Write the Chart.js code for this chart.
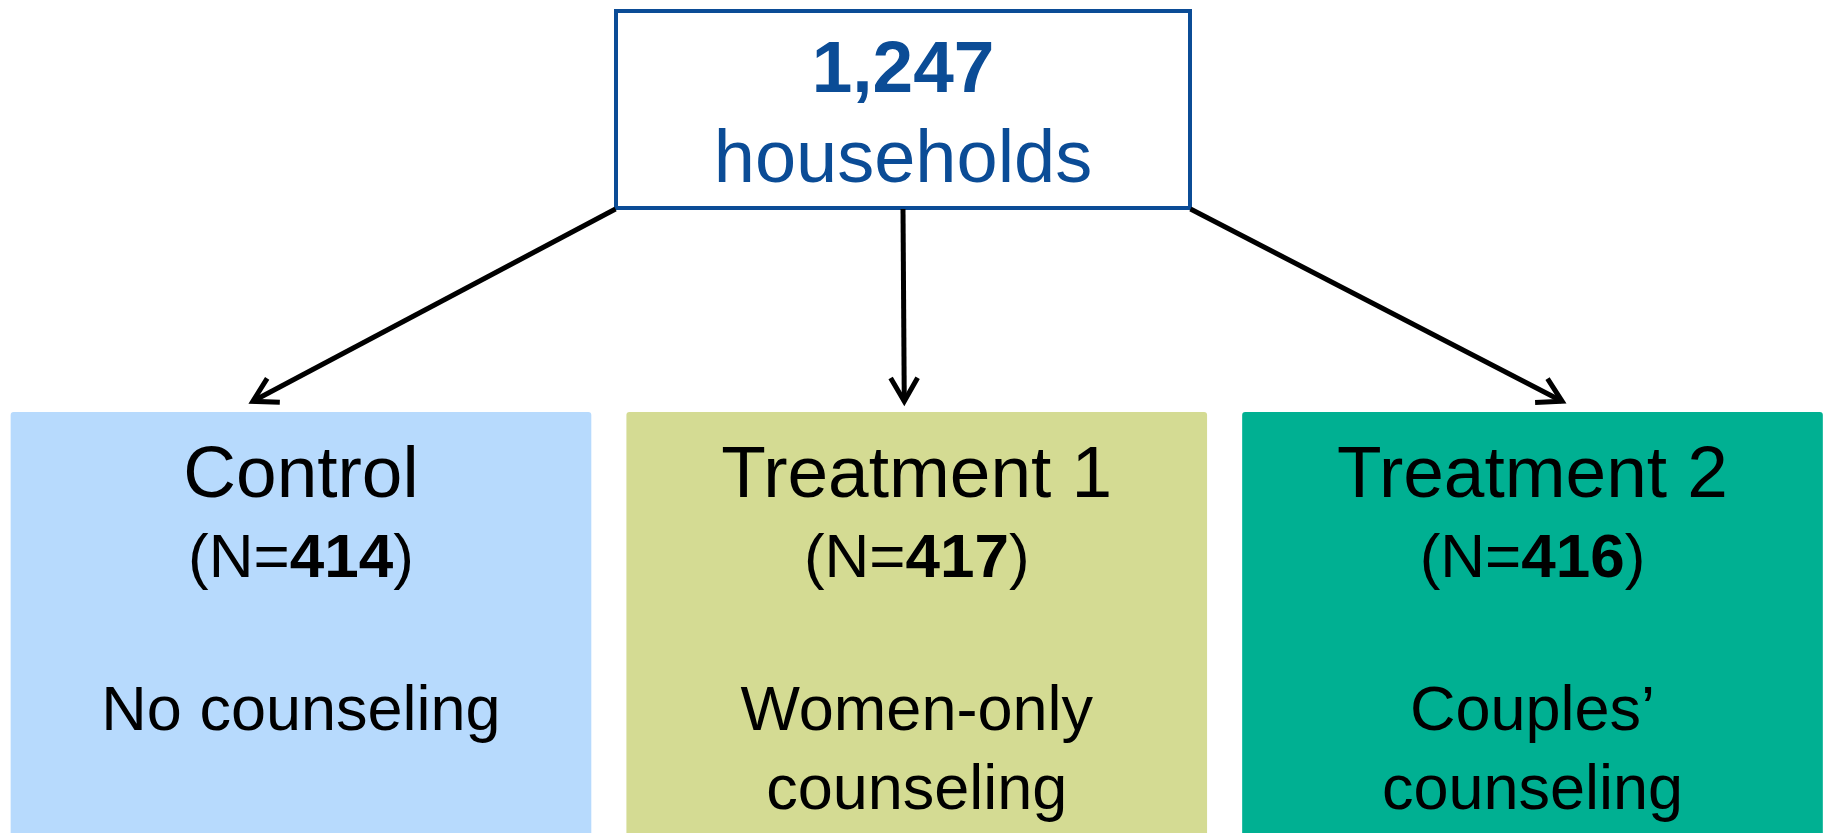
<!DOCTYPE html>
<html>
<head>
<meta charset="utf-8">
<script src="https://cdn.jsdelivr.net/npm/chart.js@4"></script>
<style>
html,body{margin:0;padding:0;background:#ffffff;overflow:hidden}
#wrap{width:1828px;height:833px;position:relative}
</style>
</head>
<body>
<div id="wrap"><canvas id="c"></canvas></div>
<script>
// ---- data ----
const groups = ['Control', 'Treatment 1', 'Treatment 2'];
const groupN = [414, 417, 416];
const descriptions = [['No counseling'], ['Women-only', 'counseling'], ['Couples\u2019', 'counseling']];
const totalHouseholds = '1,247';
const totalLabel = 'households';

const FONT = "'Liberation Sans', Arial, Helvetica, sans-serif";

const flowPlugin = {
  id: 'flow',
  afterDatasetsDraw(chart, args, opts) {
    const ctx = chart.ctx;
    const bars = chart.getDatasetMeta(0).data;
    const tb = opts.topBox;
    ctx.save();

    // top box
    const lw = tb.lineWidth;
    ctx.fillStyle = '#ffffff';
    ctx.fillRect(tb.cx - tb.w / 2, tb.top, tb.w, tb.h);
    ctx.lineWidth = lw;
    ctx.strokeStyle = tb.color;
    ctx.strokeRect(tb.cx - tb.w / 2 + lw / 2, tb.top + lw / 2, tb.w - lw, tb.h - lw);
    ctx.fillStyle = tb.color;
    ctx.textAlign = 'center';
    ctx.textBaseline = 'alphabetic';
    ctx.font = 'bold 73px ' + FONT;
    ctx.fillText(totalHouseholds, tb.cx, tb.top + 83);
    ctx.font = '74px ' + FONT;
    ctx.fillText(totalLabel, tb.cx, tb.top + 173);

    bars.forEach((bar, i) => {
      const p = bar.getProps(['x', 'y', 'base', 'width'], true);
      const left = p.x - p.width / 2;
      const top = Math.min(p.y, p.base);

      // arrow
      const sx = tb.cx + (i - 1) * (tb.w / 2 - 1.5);
      const sy = tb.top + tb.h - 1;
      const ex = left + opts.arrowFrac[i] * p.width;
      const ey = top - 11;
      const ang = Math.atan2(ey - sy, ex - sx);
      ctx.strokeStyle = '#000000';
      ctx.lineWidth = 5;
      ctx.lineCap = 'butt';
      ctx.lineJoin = 'miter';
      ctx.beginPath();
      ctx.moveTo(sx, sy);
      ctx.lineTo(ex, ey);
      ctx.stroke();
      const L = 27, a = 30 * Math.PI / 180;
      ctx.beginPath();
      ctx.moveTo(ex - L * Math.cos(ang - a), ey - L * Math.sin(ang - a));
      ctx.lineTo(ex, ey);
      ctx.lineTo(ex - L * Math.cos(ang + a), ey - L * Math.sin(ang + a));
      ctx.stroke();

      // texts
      ctx.fillStyle = '#000000';
      ctx.textAlign = 'center';
      ctx.font = '73px ' + FONT;
      ctx.fillText(groups[i], p.x, top + 85);

      // (N=xxx) with bold number
      const s1 = '(N=', s2 = String(groupN[i]), s3 = ')';
      ctx.font = '62px ' + FONT;
      const w1 = ctx.measureText(s1).width, w3 = ctx.measureText(s3).width;
      ctx.font = 'bold 62px ' + FONT;
      const w2 = ctx.measureText(s2).width;
      const x0 = p.x - (w1 + w2 + w3) / 2;
      const by = top + 165;
      ctx.textAlign = 'left';
      ctx.font = '62px ' + FONT;
      ctx.fillText(s1, x0, by);
      ctx.font = 'bold 62px ' + FONT;
      ctx.fillText(s2, x0 + w1, by);
      ctx.font = '62px ' + FONT;
      ctx.fillText(s3, x0 + w1 + w2, by);

      ctx.textAlign = 'center';
      ctx.font = '63px ' + FONT;
      descriptions[i].forEach((line, k) => {
        ctx.fillText(line, p.x, top + 318 + k * 79);
      });
    });
    ctx.restore();
  }
};

new Chart(document.getElementById('c'), {
  type: 'bar',
  data: {
    labels: groups,
    datasets: [{
      label: 'Households',
      data: groups.map((g, i) => ({ x: i, y: groupN[i] })),
      backgroundColor: ['#B7DAFD', '#D4DB93', '#00B092'],
      borderWidth: 0,
      borderRadius: 3,
      borderSkipped: false,
      barThickness: 580
    }]
  },
  options: {
    responsive: true,
    maintainAspectRatio: false,
    animation: false,
    layout: { padding: 0 },
    plugins: {
      legend: { display: false },
      tooltip: { enabled: false },
      flow: {
        topBox: { cx: 903, top: 9, w: 578, h: 201, lineWidth: 4, color: '#0B4C96' },
        arrowFrac: [0.417, 0.4785, 0.551]
      }
    },
    scales: {
      x: { type: 'linear', min: -0.4888, max: 2.4799, offset: false, display: false },
      y: { type: 'linear', min: -392, max: 400, reverse: true, display: false }
    }
  },
  plugins: [flowPlugin]
});
</script>
</body>
</html>
